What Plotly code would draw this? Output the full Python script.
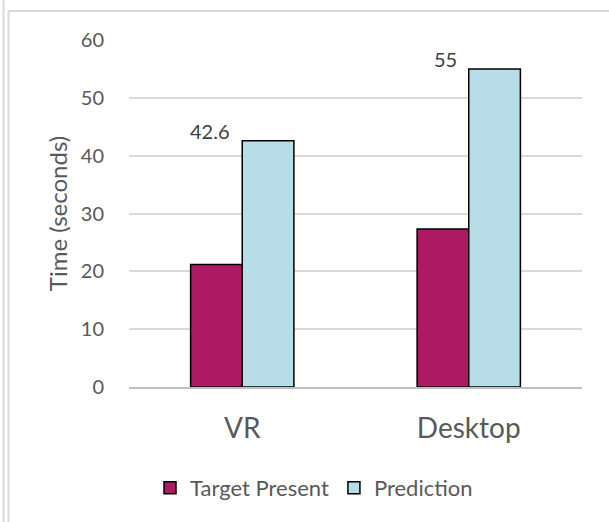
import plotly.graph_objects as go

categories = ["VR", "Desktop"]
target_present = [21.2, 27.3]
prediction = [42.6, 55]
y_ticks = [0, 10, 20, 30, 40, 50, 60]

W, H = 609, 522
ML, MR, MT, MB = 129, 27, 40, 135
PW, PH = W - ML - MR, H - MT - MB

font_family = "Lato, Open Sans, sans-serif"
text_grey = "#595959"


def px_x(p):
    return (p - ML) / PW


def px_y(p):
    return 1 - (p - MT) / PH


fig = go.Figure()
fig.add_trace(go.Bar(
    name="Target Present", x=categories, y=target_present,
    marker=dict(color="#AD1A63", line=dict(color="#000000", width=1.5)),
))
fig.add_trace(go.Bar(
    name="Prediction", x=categories, y=prediction,
    marker=dict(color="#B7DEE8", line=dict(color="#000000", width=1.5)),
))

# value labels on the prediction bars, sitting up and to the left
annotations = []
for cat, val in zip(categories, prediction):
    annotations.append(dict(
        x=cat, y=val, xref="x", yref="y", text=f"{val:g}",
        showarrow=False, xanchor="right", yanchor="bottom",
        xshift=-10, yshift=-4,
        font=dict(family=font_family, size=20, color="#404040"),
    ))

line_style = dict(color="#D9D9D9", width=2)
shapes = [
    dict(type="line", xref="paper", yref="paper",
         x0=px_x(8.5), x1=px_x(W), y0=px_y(11), y1=px_y(11), line=line_style),
    dict(type="line", xref="paper", yref="paper",
         x0=px_x(8.5), x1=px_x(8.5), y0=px_y(11), y1=px_y(H), line=line_style),
    dict(type="line", xref="paper", yref="paper",
         x0=px_x(3.5), x1=px_x(3.5), y0=px_y(0), y1=px_y(H), line=line_style),
]

fig.update_layout(
    width=W, height=H,
    margin=dict(l=ML, r=MR, t=MT, b=MB, pad=0),
    paper_bgcolor="white", plot_bgcolor="white",
    barmode="group", bargap=0.544, bargroupgap=0,
    font=dict(family=font_family, color=text_grey, size=16),
    xaxis=dict(
        tickfont=dict(size=28, color=text_grey),
        showline=True, linecolor="#BFBFBF", linewidth=1.5,
        ticks="", showgrid=False, ticklabelstandoff=16,
    ),
    yaxis=dict(
        range=[0, 60], tickvals=y_ticks,
        tickfont=dict(size=20, color=text_grey),
        showgrid=True, gridcolor="#D9D9D9", gridwidth=1.5,
        zeroline=False, showline=False, ticks="",
        ticklabelstandoff=24,
        title=dict(text="Time (seconds)", font=dict(size=24, color=text_grey),
                   standoff=6),
    ),
    legend=dict(
        orientation="h", x=px_x(314), xanchor="center",
        y=px_y(488), yanchor="middle",
        font=dict(size=22, color=text_grey),
        itemwidth=30, traceorder="normal",
    ),
    annotations=annotations,
    shapes=shapes,
)

fig.write_html("out.html")
